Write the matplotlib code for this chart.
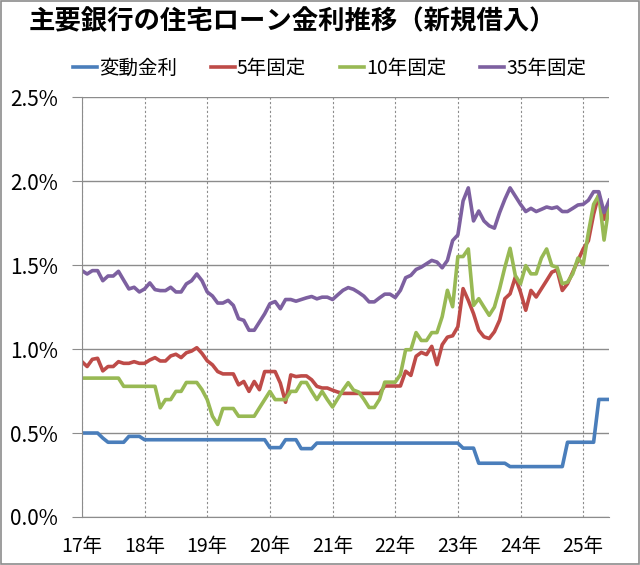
import numpy as np
import matplotlib
matplotlib.use('Agg')
from matplotlib import pyplot as plt

plt.rcParams['font.family'] = ['Noto Sans CJK JP', 'DejaVu Sans']

title = '主要銀行の住宅ローン金利推移（新規借入）'
year_labels = ['17年', '18年', '19年', '20年', '21年', '22年', '23年', '24年', '25年']

# monthly rates (%), Jan 2017 - Jun 2025
variable = ([0.50] * 4 + [0.47] + [0.445] * 4 + [0.48] * 3 + [0.46] * 24
            + [0.413] * 3 + [0.46] * 3 + [0.407] * 3 + [0.44] * 28
            + [0.41] * 3 + [0.32] * 6 + [0.30] * 11 + [0.445] * 6 + [0.70] * 3)

fixed5 = [0.925, 0.896, 0.939, 0.945, 0.87, 0.896, 0.896, 0.925, 0.915, 0.915, 0.925, 0.915,
          0.915, 0.935, 0.949, 0.929, 0.929, 0.959, 0.969, 0.949, 0.978, 0.988, 1.008, 0.974,
          0.93, 0.906, 0.866, 0.852, 0.852, 0.852, 0.787, 0.807, 0.748, 0.807, 0.758, 0.866,
          0.866, 0.866, 0.797, 0.683, 0.846, 0.836, 0.84, 0.84, 0.817, 0.778, 0.768, 0.768,
          0.755, 0.744, 0.736, 0.736, 0.736, 0.736, 0.736, 0.736, 0.736, 0.736, 0.78, 0.78,
          0.78, 0.78, 0.868, 0.843, 0.957, 0.98, 0.967, 1.016, 0.907, 1.026, 1.071, 1.079,
          1.133, 1.36, 1.29, 1.211, 1.112, 1.073, 1.063, 1.103, 1.172, 1.3, 1.329, 1.428,
          1.339, 1.231, 1.349, 1.31, 1.359, 1.408, 1.458, 1.471, 1.349, 1.389, 1.458, 1.527,
          1.596, 1.645, 1.803, 1.921, 1.773, 1.872]

fixed10 = [0.827] * 8 + [0.778] * 7 + [
    0.65, 0.699, 0.699, 0.748, 0.748, 0.801, 0.801, 0.801, 0.758, 0.699, 0.60,
    0.551, 0.646, 0.646, 0.646, 0.6, 0.6, 0.6, 0.6, 0.65, 0.699,
    0.748, 0.699, 0.699, 0.699, 0.748, 0.748, 0.801, 0.801, 0.748, 0.699, 0.748, 0.699,
    0.655, 0.705, 0.756, 0.8, 0.756, 0.744, 0.701, 0.652, 0.652, 0.701, 0.803, 0.803,
    0.803, 0.848, 0.996, 0.996, 1.098, 1.051, 1.051, 1.098, 1.098, 1.193, 1.35, 1.252,
    1.551, 1.551, 1.596, 1.26, 1.3, 1.25, 1.201, 1.25, 1.36, 1.487, 1.6, 1.438,
    1.389, 1.497, 1.448, 1.448, 1.542, 1.596, 1.497, 1.487, 1.389, 1.398, 1.448, 1.542,
    1.503, 1.694, 1.862, 1.917, 1.649, 1.862]

fixed35 = [1.467, 1.447, 1.467, 1.467, 1.407, 1.435, 1.435, 1.463, 1.41, 1.358, 1.368, 1.34,
           1.358, 1.394, 1.354, 1.348, 1.348, 1.368, 1.34, 1.34, 1.388, 1.407, 1.447, 1.407,
           1.34, 1.316, 1.274, 1.274, 1.29, 1.26, 1.181, 1.171, 1.112, 1.112, 1.161, 1.21,
           1.27, 1.283, 1.24, 1.295, 1.295, 1.285, 1.295, 1.305, 1.313, 1.299, 1.309, 1.309,
           1.295, 1.323, 1.35, 1.366, 1.356, 1.337, 1.315, 1.281, 1.281, 1.305, 1.327, 1.327,
           1.307, 1.35, 1.425, 1.439, 1.474, 1.488, 1.508, 1.528, 1.518, 1.484, 1.528, 1.646,
           1.68, 1.882, 1.96, 1.763, 1.822, 1.763, 1.734, 1.72, 1.813, 1.892, 1.96, 1.911,
           1.862, 1.819, 1.838, 1.819, 1.832, 1.846, 1.838, 1.846, 1.819, 1.819, 1.838, 1.858,
           1.862, 1.886, 1.937, 1.937, 1.813, 1.886]

series = [('変動金利', variable, '#4A7EBB'),
          ('5年固定', fixed5, '#BE4B48'),
          ('10年固定', fixed10, '#98B954'),
          ('35年固定', fixed35, '#7D60A0')]

months = np.arange(len(fixed5))

fig = plt.figure(figsize=(6.4, 5.65), dpi=100)
ax = fig.add_axes([0.128, 0.085, 0.824, 0.743])

for name, vals, col in series:
    ax.plot(months, vals, color=col, linewidth=2.6, label=name, solid_joinstyle='round')

ax.set_xlim(0, months[-1])
ax.set_ylim(0, 2.5)
ax.set_yticks(np.arange(0, 2.51, 0.5))
ax.set_yticklabels(['%.1f%%' % v for v in np.arange(0, 2.51, 0.5)], fontsize=15)
ax.set_xticks(np.arange(0, len(months), 12))
ax.set_xticklabels(year_labels, fontsize=14)

ax.grid(True, axis='y', color='#8c8c8c', linewidth=1.0)
ax.grid(True, axis='x', color='#8c8c8c', linewidth=0.8, linestyle=(0, (2, 2)))
ax.set_axisbelow(True)
for s in ['top', 'right']:
    ax.spines[s].set_visible(False)
ax.spines['left'].set_color('#8c8c8c')
ax.spines['bottom'].set_color('#8c8c8c')
ax.tick_params(axis='y', length=7, color='#8c8c8c', pad=10)
ax.tick_params(axis='x', length=0, pad=14)

fig.text(0.045, 0.962, title, fontsize=19, fontweight='bold', va='center')
fig.legend(loc='center left', bbox_to_anchor=(0.114, 0.879), ncol=4, frameon=False,
           fontsize=14, handlelength=1.25, handletextpad=0.08, columnspacing=1.75,
           borderpad=0, borderaxespad=0)

fig.add_artist(plt.Rectangle((0.002, 0.002), 0.996, 0.996, transform=fig.transFigure,
                             fill=False, edgecolor='#8c8c8c', linewidth=1.2))

plt.savefig('out.png')
